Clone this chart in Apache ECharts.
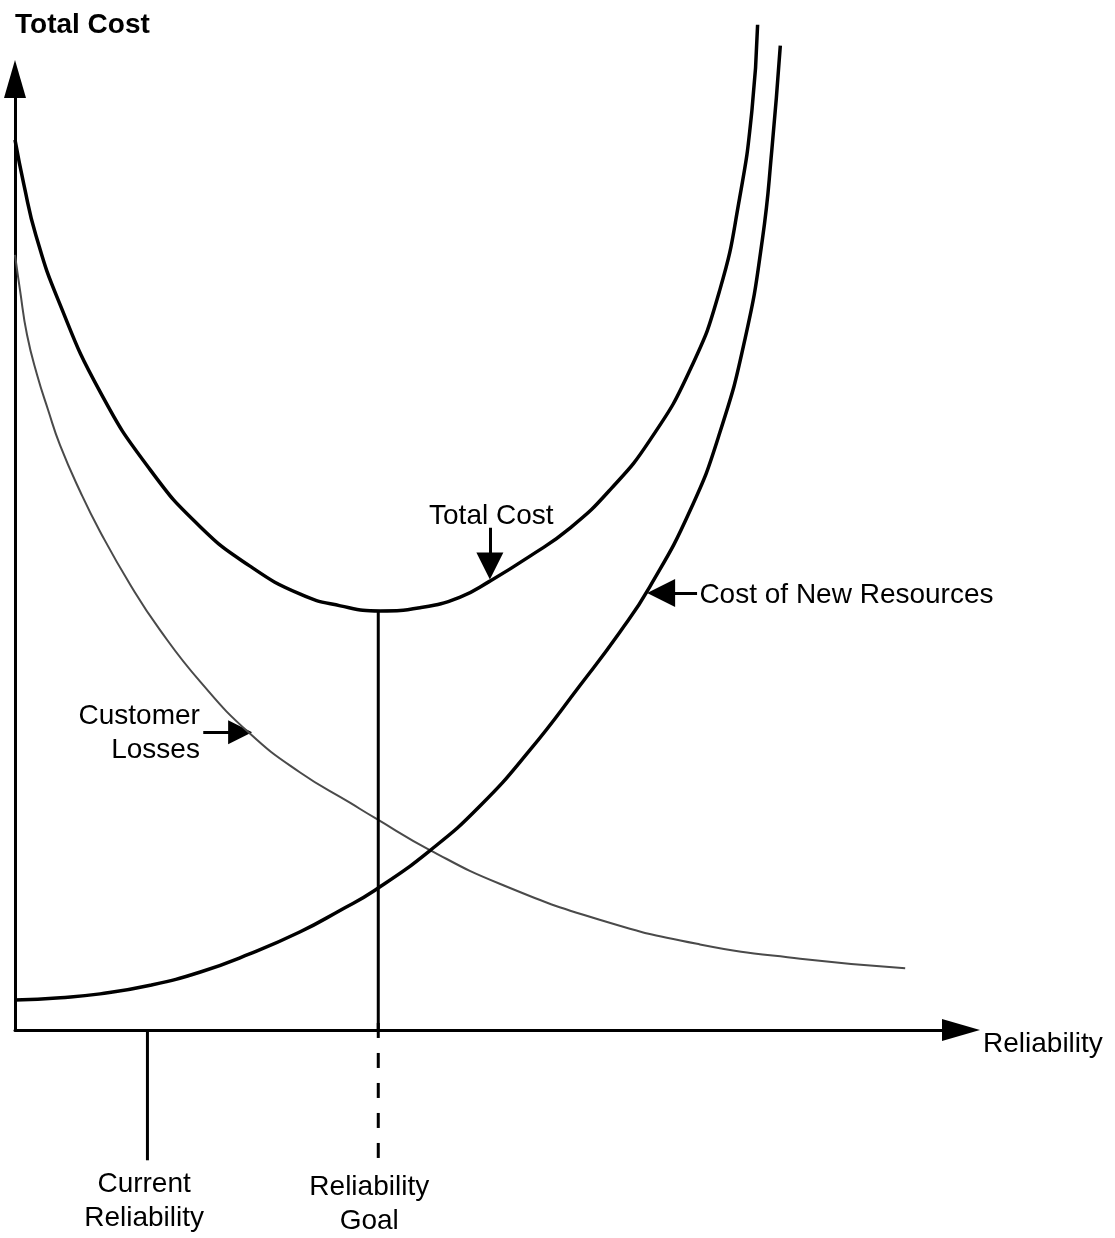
<!DOCTYPE html>
<html>
<head>
<meta charset="utf-8">
<script src="https://cdn.jsdelivr.net/npm/echarts@6/dist/echarts.min.js"></script>
<style>
html, body { margin: 0; padding: 0; background: #fff; }
#main { width: 1115px; height: 1238px; }
</style>
</head>
<body>
<div id="main"></div>
<script>
// [reliability, cost] pairs, both axes on a 0-100 scale
const totalCost = [
  [0, 93.6], [0.95, 88.85], [2.2, 83.6], [4.55, 76.8], [9.0, 67.1], [14.3, 58.9],
  [19.6, 52.9], [24.8, 48.8], [30.1, 45.85], [34.4, 44.6], [38.6, 44.06], [42.8, 44.4],
  [47.0, 45.5], [50.2, 47.2], [54.4, 49.8], [58.7, 52.8], [62.9, 56.8], [67.1, 62.0],
  [71.35, 69.4], [74.5, 77.8], [76.6, 87.5], [77.9, 96.7], [78.5, 105.7]
];
const newResources = [
  [0, 3.15], [4.8, 3.4], [9.0, 3.8], [14.3, 4.7], [19.6, 6.1], [24.8, 8.0],
  [30.1, 10.3], [34.4, 12.6], [38.05, 14.7], [43.9, 18.9], [49.15, 23.55], [54.4, 29.4],
  [59.7, 36.2], [63.95, 41.85], [67.1, 46.6], [71.35, 54.6], [74.5, 62.8], [77.2, 72.8],
  [79.0, 83.1], [80.0, 92.5], [80.9, 103.5]
];
const customerLosses = [
  [0, 81.5], [0.53, 77.8], [1.27, 73.1], [2.33, 68.9], [3.5, 65.2], [4.76, 61.5],
  [6.9, 56.6], [9.0, 52.4], [12.2, 46.8], [15.3, 42.1], [19.6, 36.6], [24.8, 31.2],
  [30.1, 27.1], [35.4, 23.9], [38.05, 22.3], [43.9, 18.9], [51.3, 15.35], [61.8, 11.6],
  [72.4, 9.0], [83.0, 7.5], [94.1, 6.5]
];

const currentReliability = 14.0;
const reliabilityGoal = 38.4;
const goalCost = 44.1;
const tickBottom = -13.7;

const labels = [
  { text: 'Total Cost', at: [50.4, 54.0], align: 'center' },
  { text: 'Cost of New Resources', at: [72.4, 45.7], align: 'left' },
  { text: 'Customer\nLosses', at: [19.6, 31.2], align: 'right' },
  { text: 'Current\nReliability', at: [13.7, -18.1], align: 'center' },
  { text: 'Reliability\nGoal', at: [37.5, -18.4], align: 'center' }
];
const pointers = [
  { from: [50.2, 52.8], to: [50.2, 48.8] },
  { from: [72.1, 45.95], to: [68.3, 45.95] },
  { from: [19.9, 31.3], to: [23.8, 31.3] }
];
const pointerHeads = [[16, 27], [11, 28], [13, 24]];

const font = "'Liberation Sans', Arial, Helvetica, sans-serif";
const chart = echarts.init(document.getElementById('main'));

function curve(name, data, color, width) {
  return {
    name: name,
    type: 'line',
    data: data,
    smooth: 0.5,
    showSymbol: false,
    clip: false,
    silent: true,
    lineStyle: { color: color, width: width }
  };
}

function rule(data, type) {
  return {
    type: 'line',
    data: data,
    showSymbol: false,
    clip: false,
    silent: true,
    lineStyle: { color: '#000', width: 3, type: type || 'solid' }
  };
}

const series = [
  curve('Customer Losses', customerLosses, '#4a4a4a', 2),
  curve('Total Cost', totalCost, '#000', 3.5),
  curve('Cost of New Resources', newResources, '#000', 3.5),
  rule([[currentReliability, 0], [currentReliability, tickBottom]]),
  rule([[reliabilityGoal, goalCost], [reliabilityGoal, 0]]),
  rule([[reliabilityGoal, 0.74], [reliabilityGoal, tickBottom]], [15, 15]),
  {
    type: 'scatter',
    symbolSize: 1,
    clip: false,
    silent: true,
    z: 10,
    itemStyle: { color: '#fff', opacity: 1 },
    data: labels.map(function (l) {
      return {
        value: l.at,
        label: {
          show: true, formatter: l.text, position: [0, 0],
          align: l.align, verticalAlign: 'middle',
          fontFamily: font, fontSize: 28, lineHeight: 34, color: '#000',
          textBorderWidth: 0, textBorderColor: 'transparent', opacity: 1
        }
      };
    })
  }
];

pointers.forEach(function (p, i) {
  series.push({
    type: 'lines',
    coordinateSystem: 'cartesian2d',
    silent: true,
    symbol: ['none', 'triangle'],
    symbolSize: pointerHeads[i],
    lineStyle: { color: '#000', width: 3, opacity: 1 },
    data: [{ coords: [p.from, p.to] }]
  });
});

chart.setOption({
  animation: false,
  backgroundColor: '#fff',
  grid: { left: 15, right: 154, top: 79, bottom: 208 },
  xAxis: {
    type: 'value',
    min: 0,
    max: 100,
    name: 'Reliability',
    nameLocation: 'end',
    nameGap: 22,
    nameTextStyle: {
      fontFamily: font, fontSize: 28, color: '#000',
      align: 'left', verticalAlign: 'top'
    },
    axisLine: {
      show: true,
      symbol: ['none', 'triangle'],
      symbolSize: [22, 38],
      lineStyle: { color: '#000', width: 3 }
    },
    axisTick: { show: false },
    axisLabel: { show: false },
    splitLine: { show: false }
  },
  yAxis: {
    type: 'value',
    min: 0,
    max: 100,
    name: 'Total Cost',
    nameLocation: 'end',
    nameGap: 54,
    nameTextStyle: {
      fontFamily: font, fontSize: 28, fontWeight: 'bold', color: '#000',
      align: 'left', verticalAlign: 'middle'
    },
    axisLine: {
      show: true,
      symbol: ['none', 'triangle'],
      symbolSize: [22, 38],
      lineStyle: { color: '#000', width: 3 }
    },
    axisTick: { show: false },
    axisLabel: { show: false },
    splitLine: { show: false }
  },
  series: series
});
</script>
</body>
</html>
